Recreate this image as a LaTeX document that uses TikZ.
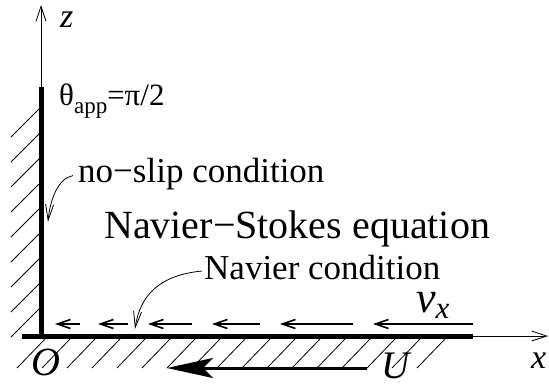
\documentclass[tikz,border=0pt]{standalone}
\usepackage{fontspec}
\setmainfont{Liberation Serif}
\newfontfamily\tnr{Liberation Serif}
\usetikzlibrary{arrows.meta, positioning}
\tikzset{
  wall/.style={line width=5pt},
  axis/.style={-{Straight Barb[length=15pt,width=10pt]}, line width=0.8pt},
  hatch/.style={line width=0.8pt},
  flow/.style={-{Straight Barb[length=13pt,width=9pt]}, line width=1.6pt},
  pointer/.style={-{Straight Barb[length=16pt,width=8pt]}, line width=0.8pt},
  push/.style={-{Stealth[length=46pt,width=20pt,inset=10pt]}, line width=3pt},
  lbl/.style={inner sep=0pt, anchor=base west, font=\tnr},
}
\newcommand{\fs}[1]{\fontsize{#1}{#1}\selectfont}

\begin{document}
\begin{tikzpicture}[x=1pt, y=-1pt]
    \useasboundingbox (0,0) rectangle (549,383);
    % walls and axes
    \coordinate (O) at (41,336);
    \coordinate (wtop) at (41,87);
    \coordinate (wleft) at (22,336);
    \coordinate (wright) at (473,336);
    \coordinate (zend) at (41,5);
    \coordinate (xend) at (548,336);
    \draw[axis] (O) -- (zend);
    \draw[axis] (wright) -- (xend);
    \draw[wall] (O) -- (wtop);
    \draw[wall] (wleft) -- (wright);
    \foreach \y in {107,132,...,307}
      \draw[hatch] (41,\y) -- ++(-30,30);
    \foreach \x in {45,70,...,445}
      \draw[hatch] (\x,339) -- ++(-28,29);
    % slip velocity near the wall
    \foreach \a/\b in {80/55, 128/98, 192/148, 260/212, 353/280, 473/373}
      \draw[flow] (\a,324) -- (\b,324);
    % wall motion
    \coordinate (ustart) at (367,368);
    \coordinate (uend) at (167,368);
    \draw[push] (ustart) -- (uend);
    % labels
    \node[lbl] (zlbl) at (60,27) {\fs{34}\itshape z};
    \node[lbl] (theta) at (59,105) {\fs{31}θ\raisebox{-0.28em}{\fs{23}app}=π/2};
    \node[lbl] (noslip) at (78,182) {\fs{35}no−slip condition};
    \node[lbl] (ns) at (104,238) {\fs{40}Navier−Stokes equation};
    \node[lbl] (navier) at (204,279) {\fs{35}Navier condition};
    \node[lbl] (vx) at (416,312) {\fs{44}\itshape v\raisebox{-0.15em}{\fs{31}x}};
    \node[lbl] (olbl) at (31,375) {\fs{40}\itshape O};
    \node[lbl] (ulbl) at (381,378) {\fs{39}\itshape U};
    \node[lbl] (xlbl) at (531,368) {\fs{34}\itshape x};
    % pointers
    \coordinate (noslipend) at (48,222);
    \coordinate (navend) at (135,329);
    \draw[pointer] ([xshift=-5pt,yshift=-2pt]noslip.west) .. controls (58,178) and (50,200) .. (noslipend);
    \draw[pointer] ([xshift=-2pt,yshift=-4pt]navier.west) .. controls (160,275) and (140,295) .. (navend);
\end{tikzpicture}
\end{document}
